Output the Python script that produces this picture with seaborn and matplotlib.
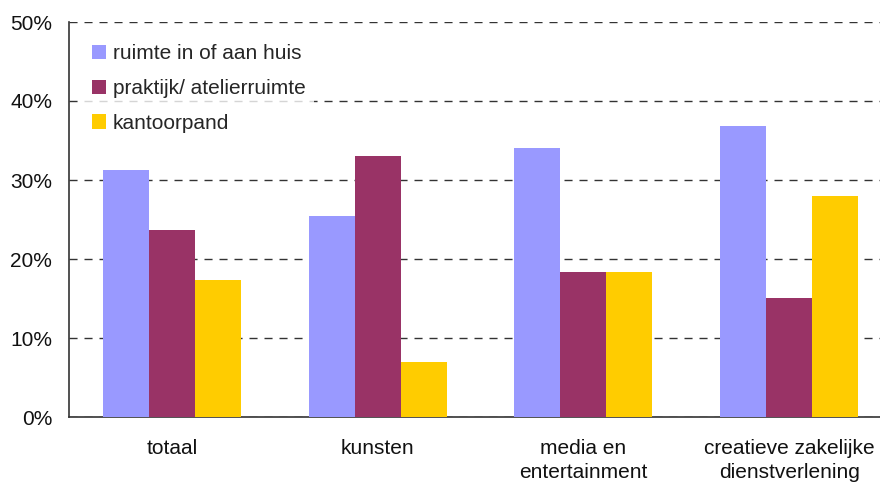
import matplotlib
matplotlib.use("Agg")
import matplotlib.pyplot as plt
import seaborn as sns
import pandas as pd
from matplotlib.ticker import FuncFormatter

categories = ["totaal", "kunsten", "media en\nentertainment", "creatieve zakelijke\ndienstverlening"]
series = ["ruimte in of aan huis", "praktijk/ atelierruimte", "kantoorpand"]
ruimte_huis = [31.3, 25.4, 34.0, 36.8]
praktijk = [23.7, 33.0, 18.3, 15.1]
kantoor = [17.3, 7.0, 18.3, 28.0]
colors = ["#9999FF", "#993366", "#FFCC00"]
yticks = [0, 10, 20, 30, 40, 50]

rows = []
for s, vals in zip(series, [ruimte_huis, praktijk, kantoor]):
    for c, v in zip(categories, vals):
        rows.append({"cat": c, "serie": s, "val": v})
df = pd.DataFrame(rows)

sns.set_theme(style="white")
plt.rcParams["font.family"] = ["Liberation Sans", "DejaVu Sans"]

fig = plt.figure(figsize=(8.8, 4.86), dpi=100)
ax = fig.add_axes([69/880, 1-417/486, (892-69)/880, (417-22)/486])

sns.barplot(data=df, x="cat", y="val", hue="serie", order=categories, hue_order=series,
            palette=colors, width=0.67, gap=0, saturation=1, linewidth=0, ax=ax, zorder=3)

ax.set_ylim(0, 50)
ax.set_yticks(yticks)
ax.yaxis.set_major_formatter(FuncFormatter(lambda v, p: f"{int(v)}%"))
ax.set_xlim(-0.5, 3.5)
ax.set_xlabel("")
ax.set_ylabel("")
ax.grid(axis="y", linestyle=(0, (5.8, 5)), color="#333333", linewidth=1, zorder=0)
ax.set_axisbelow(True)
for side in ["top", "right"]:
    ax.spines[side].set_visible(False)
for side in ["left", "bottom"]:
    ax.spines[side].set_color("#333333")
    ax.spines[side].set_linewidth(1.2)
ax.tick_params(axis="both", length=0, labelsize=15, colors="#111111")
ax.tick_params(axis="y", pad=12)
ax.tick_params(axis="x", pad=16)
for lbl in ax.get_xticklabels():
    lbl.set_linespacing(1.35)

leg = ax.legend(loc="upper left", bbox_to_anchor=(0.01, 0.98), frameon=True, fontsize=15,
                handlelength=0.7, handleheight=0.7, handletextpad=0.3, labelspacing=0.75,
                borderaxespad=0.3)
leg.get_frame().set_facecolor("white")
leg.get_frame().set_edgecolor("white")
leg.get_frame().set_linewidth(0)
leg.get_frame().set_boxstyle("square", pad=0)
leg.set_zorder(5)

fig.savefig("out.png", dpi=100)
